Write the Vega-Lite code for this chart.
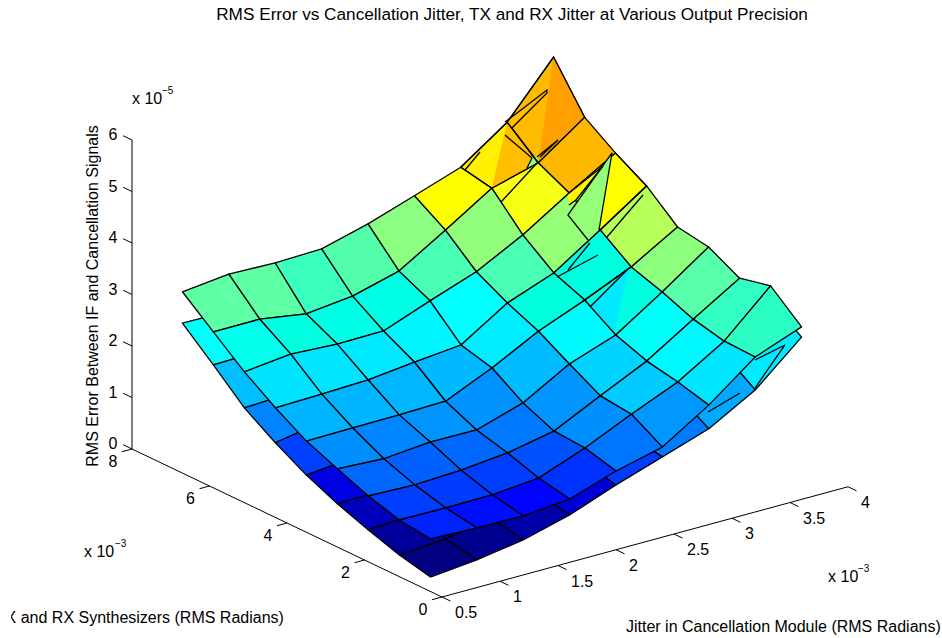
{"$schema":"https://vega.github.io/schema/vega-lite/v6.json","width":931,"height":608,"autosize":"none","padding":{"left":11,"top":30,"right":0,"bottom":0},"background":"white","config":{"view":{"stroke":null},"text":{"font":"Liberation Sans","fontSize":16,"color":"#000"}},
"title":{"text":"RMS Error vs Cancellation Jitter, TX and RX Jitter at Various Output Precision","font":"Liberation Sans","fontSize":17.2,"fontWeight":"normal","color":"#000","dx":35.5,"offset":7,"anchor":"middle"},
"datasets":{
"axes":[
{"n":"ax","x":[0.5,4],"y":[0,0],"z":[0,0],"k":[0,1]},{"n":"ay","x":[0.5,0.5],"y":[0,8],"z":[0,0],"k":[0,1]},{"n":"az","x":[0.5,0.5],"y":[8,8],"z":[0,6],"k":[0,1]},
{"n":"tx1","x":[0.5,0.5],"y":[0,-0.22],"z":[0,0],"k":[0,1]},{"n":"tx2","x":[1,1],"y":[0,-0.22],"z":[0,0],"k":[0,1]},{"n":"tx3","x":[1.5,1.5],"y":[0,-0.22],"z":[0,0],"k":[0,1]},{"n":"tx4","x":[2,2],"y":[0,-0.22],"z":[0,0],"k":[0,1]},{"n":"tx5","x":[2.5,2.5],"y":[0,-0.22],"z":[0,0],"k":[0,1]},{"n":"tx6","x":[3,3],"y":[0,-0.22],"z":[0,0],"k":[0,1]},{"n":"tx7","x":[3.5,3.5],"y":[0,-0.22],"z":[0,0],"k":[0,1]},{"n":"tx8","x":[4,4],"y":[0,-0.22],"z":[0,0],"k":[0,1]},
{"n":"ty0","x":[0.5,0.414],"y":[0,0],"z":[0,0],"k":[0,1]},{"n":"ty2","x":[0.5,0.414],"y":[2,2],"z":[0,0],"k":[0,1]},{"n":"ty4","x":[0.5,0.414],"y":[4,4],"z":[0,0],"k":[0,1]},{"n":"ty6","x":[0.5,0.414],"y":[6,6],"z":[0,0],"k":[0,1]},{"n":"ty8","x":[0.5,0.414],"y":[8,8],"z":[0,0],"k":[0,1]},
{"n":"tz0","x":[0.5,0.5],"y":[8,8.23],"z":[0,0],"k":[0,1]},{"n":"tz1","x":[0.5,0.5],"y":[8,8.23],"z":[1,1],"k":[0,1]},{"n":"tz2","x":[0.5,0.5],"y":[8,8.23],"z":[2,2],"k":[0,1]},{"n":"tz3","x":[0.5,0.5],"y":[8,8.23],"z":[3,3],"k":[0,1]},{"n":"tz4","x":[0.5,0.5],"y":[8,8.23],"z":[4,4],"k":[0,1]},{"n":"tz5","x":[0.5,0.5],"y":[8,8.23],"z":[5,5],"k":[0,1]},{"n":"tz6","x":[0.5,0.5],"y":[8,8.23],"z":[6,6],"k":[0,1]}
],
"cells":[
{"s":"B","x":0.5,"y":5.9,"z":[2.39,2.41,2.90,2.91]},{"s":"B","x":0.5,"y":5.1,"z":[1.84,1.88,2.41,2.39]},{"s":"B","x":0.5,"y":4.3,"z":[1.45,1.61,1.88,1.84]},{"s":"B","x":0.5,"y":3.5,"z":[1.11,1.20,1.61,1.45]},{"s":"B","x":0.5,"y":2.7,"z":[0.84,0.86,1.20,1.11]},{"s":"B","x":0.5,"y":1.9,"z":[0.62,0.68,0.86,0.84]},{"s":"B","x":0.9,"y":1.1,"z":[0.49,0.63,0.78,0.68]},{"s":"B","x":0.5,"y":1.1,"z":[0.42,0.49,0.68,0.62]},
{"s":"B","x":3.3,"y":0.3,"z":[2.20,2.98,3.41,2.61]},{"s":"B","x":2.9,"y":0.3,"z":[1.69,2.20,2.61,2.06]},{"s":"B","x":2.5,"y":0.3,"z":[1.39,1.69,2.06,1.49]},{"s":"B","x":2.1,"y":0.3,"z":[1.09,1.39,1.49,1.23]},{"s":"B","x":1.7,"y":0.3,"z":[0.75,1.09,1.23,0.89]},{"s":"B","x":1.3,"y":0.3,"z":[0.51,0.75,0.89,0.63]},{"s":"B","x":0.9,"y":0.3,"z":[0.37,0.51,0.63,0.49]},{"s":"B","x":0.5,"y":0.3,"z":[0.28,0.37,0.49,0.42]},
{"s":"A","x":3.3,"y":5.9,"z":[4.60,5.24,6.12,5.10],"c":4.28},{"s":"A","x":2.9,"y":5.9,"z":[4.35,4.60,5.10,4.47],"c":3.88},{"s":"A","x":2.5,"y":5.9,"z":[3.78,4.35,4.47,4.16]},{"s":"A","x":2.1,"y":5.9,"z":[3.23,3.78,4.16,3.86]},{"s":"A","x":1.7,"y":5.9,"z":[2.99,3.23,3.86,3.62]},{"s":"A","x":1.3,"y":5.9,"z":[2.89,2.99,3.62,3.59]},{"s":"A","x":0.9,"y":5.9,"z":[3.03,2.89,3.59,3.62]},{"s":"A","x":0.5,"y":5.9,"z":[3.03,3.03,3.62,3.52]},
{"s":"A","x":3.3,"y":5.1,"z":[4.30,4.83,5.24,4.60]},{"s":"A","x":2.9,"y":5.1,"z":[3.73,4.30,4.60,4.35]},{"s":"A","x":2.5,"y":5.1,"z":[3.26,3.73,4.35,3.78]},{"s":"A","x":2.1,"y":5.1,"z":[2.94,3.26,3.78,3.23]},{"s":"A","x":1.7,"y":5.1,"z":[2.60,2.94,3.23,2.99]},{"s":"A","x":1.3,"y":5.1,"z":[2.59,2.60,2.99,2.89]},{"s":"A","x":0.9,"y":5.1,"z":[2.64,2.59,2.89,3.03]},{"s":"A","x":0.5,"y":5.1,"z":[2.54,2.64,3.03,3.03]},
{"s":"A","x":3.3,"y":4.3,"z":[3.87,4.48,4.83,4.30],"c":3.77},{"s":"A","x":2.9,"y":4.3,"z":[3.28,3.87,4.30,3.73]},{"s":"A","x":2.5,"y":4.3,"z":[2.94,3.28,3.73,3.26]},{"s":"A","x":2.1,"y":4.3,"z":[2.37,2.94,3.26,2.94]},{"s":"A","x":1.7,"y":4.3,"z":[2.28,2.37,2.94,2.60]},{"s":"A","x":1.3,"y":4.3,"z":[2.18,2.28,2.60,2.59]},{"s":"A","x":0.9,"y":4.3,"z":[2.15,2.18,2.59,2.64]},{"s":"A","x":0.5,"y":4.3,"z":[2.13,2.15,2.64,2.54]},
{"s":"A","x":3.3,"y":3.5,"z":[3.44,3.97,4.48,3.87]},{"s":"A","x":2.9,"y":3.5,"z":[3.04,3.44,3.87,3.28],"c":2.64},{"s":"A","x":2.5,"y":3.5,"z":[2.68,3.04,3.28,2.94]},{"s":"A","x":2.1,"y":3.5,"z":[2.21,2.68,2.94,2.37]},{"s":"A","x":1.7,"y":3.5,"z":[1.81,2.21,2.37,2.28]},{"s":"A","x":1.3,"y":3.5,"z":[1.79,1.81,2.28,2.18]},{"s":"A","x":0.9,"y":3.5,"z":[1.78,1.79,2.18,2.15]},{"s":"A","x":0.5,"y":3.5,"z":[1.77,1.78,2.15,2.13]},
{"s":"A","x":3.3,"y":2.7,"z":[3.24,3.87,3.97,3.44]},{"s":"A","x":2.9,"y":2.7,"z":[2.65,3.24,3.44,3.04]},{"s":"A","x":2.5,"y":2.7,"z":[2.33,2.65,3.04,2.68]},{"s":"A","x":2.1,"y":2.7,"z":[1.82,2.33,2.68,2.21]},{"s":"A","x":1.7,"y":2.7,"z":[1.54,1.82,2.21,1.81]},{"s":"A","x":1.3,"y":2.7,"z":[1.55,1.54,1.81,1.79]},{"s":"A","x":0.9,"y":2.7,"z":[1.47,1.55,1.79,1.78]},{"s":"A","x":0.5,"y":2.7,"z":[1.52,1.47,1.78,1.77]},
{"s":"A","x":3.3,"y":1.9,"z":[3.00,3.55,3.87,3.24]},{"s":"A","x":2.9,"y":1.9,"z":[2.43,3.00,3.24,2.65]},{"s":"A","x":2.5,"y":1.9,"z":[2.00,2.43,2.65,2.33]},{"s":"A","x":2.1,"y":1.9,"z":[1.56,2.00,2.33,1.82]},{"s":"A","x":1.7,"y":1.9,"z":[1.38,1.56,1.82,1.54]},{"s":"A","x":1.3,"y":1.9,"z":[1.29,1.38,1.54,1.55]},{"s":"A","x":0.9,"y":1.9,"z":[1.25,1.29,1.55,1.47]},{"s":"A","x":0.5,"y":1.9,"z":[1.28,1.25,1.47,1.52]},
{"s":"A","x":3.3,"y":1.1,"z":[2.86,3.69,3.55,3.00]},{"s":"A","x":2.9,"y":1.1,"z":[2.31,2.86,3.00,2.43]},{"s":"A","x":2.5,"y":1.1,"z":[1.93,2.31,2.43,2.00]},{"s":"A","x":2.1,"y":1.1,"z":[1.52,1.93,2.00,1.56]},{"s":"A","x":1.7,"y":1.1,"z":[1.18,1.52,1.56,1.38]},{"s":"A","x":1.3,"y":1.1,"z":[1.10,1.18,1.38,1.29]},{"s":"A","x":0.9,"y":1.1,"z":[1.09,1.10,1.29,1.25]},{"s":"A","x":0.5,"y":1.1,"z":[1.10,1.09,1.25,1.28]},
{"s":"A","x":3.3,"y":0.3,"z":[2.84,3.18,3.69,2.86]},{"s":"A","x":2.9,"y":0.3,"z":[2.15,2.84,2.86,2.31]},{"s":"A","x":2.5,"y":0.3,"z":[1.58,2.15,2.31,1.93]},{"s":"A","x":2.1,"y":0.3,"z":[1.36,1.58,1.93,1.52]},{"s":"A","x":1.7,"y":0.3,"z":[1.06,1.36,1.52,1.18]},{"s":"A","x":1.3,"y":0.3,"z":[0.98,1.06,1.18,1.10]},{"s":"A","x":0.9,"y":0.3,"z":[0.99,0.98,1.10,1.09]},{"s":"A","x":0.5,"y":0.3,"z":[1.02,0.99,1.09,1.10]}
],
"patches":[
{"n":"p1","c":4.465,"x":[3.3,3.7,3.7],"y":[5.9,5.9,6.7],"z":[4.60,5.24,6.12],"k":[0,1,2]},
{"n":"p2","c":4.26,"x":[2.9,3.3,3.3],"y":[5.9,5.9,6.7],"z":[4.35,4.60,5.10],"k":[0,1,2]},
{"n":"p3","c":4.26,"x":[3.419,3.643,3.643,3.341,3.281],"y":[6.7,6.7,6.7,6.7,6.7],"z":[5.264,5.515,5.457,4.962,5.116],"k":[0,1,2,3,4]},
{"n":"p4","c":3.28,"x":[3.514,3.557,3.574,3.471],"y":[6.7,6.7,6.7,6.7],"z":[4.274,4.306,4.140,4.106],"k":[0,1,2,3]},
{"n":"p5","c":3.83,"x":[3.557,3.738,3.583],"y":[6.7,6.7,6.7],"z":[4.267,4.487,4.251],"k":[0,1,2]},
{"n":"p6","c":3.83,"x":[3.022,3.324,3.091,3.031],"y":[4.3,4.3,4.3,4.3],"z":[4.738,5.097,4.579,4.519],"k":[0,1,2,3]},
{"n":"p7","c":3.28,"x":[3.022,3.402,3.290],"y":[4.3,4.3,4.3],"z":[4.330,5.302,3.875],"k":[0,1,2]},
{"n":"p8","c":2.18,"x":[3.419,3.548,3.212],"y":[4.3,4.3,4.3],"z":[1.757,2.979,2.428],"k":[0,1,2]}
],
"strokes":[
{"n":"l1","x":[3.3,3.7,3.7,3.3,3.3],"y":[5.9,5.9,6.7,6.7,5.9],"z":[4.60,5.24,6.12,5.10,4.60],"k":[0,1,2,3,4]},
{"n":"l2","x":[2.9,3.3,3.3,2.9,2.9],"y":[5.9,5.9,6.7,6.7,5.9],"z":[4.35,4.60,5.10,4.47,4.35],"k":[0,1,2,3,4]},
{"n":"l3","x":[3.281,3.419,3.643,3.643,3.341],"y":[6.7,6.7,6.7,6.7,6.7],"z":[5.116,5.264,5.515,5.457,4.962],"k":[0,1,2,3,4]},
{"n":"l4","x":[2.936,3.066],"y":[6.7,6.7],"z":[4.394,4.665],"k":[0,1]},
{"n":"l5","x":[3.281,3.514],"y":[6.7,6.7],"z":[4.863,4.274],"k":[0,1]},
{"n":"l6","x":[3.514,3.471],"y":[6.7,6.7],"z":[4.274,4.106],"k":[0,1]},
{"n":"l7","x":[3.557,3.738,3.583],"y":[6.7,6.7,6.7],"z":[4.267,4.487,4.251],"k":[0,1,2]},
{"n":"l8","x":[3.247,3.557],"y":[6.7,6.7],"z":[3.583,4.151],"k":[0,1]},
{"n":"l9","x":[3.022,3.324,3.091,3.031],"y":[4.3,4.3,4.3,4.3],"z":[4.738,5.097,4.579,4.519],"k":[0,1,2,3]},
{"n":"l10","x":[3.195,3.022,3.402,3.290],"y":[4.3,4.3,4.3,4.3],"z":[3.739,4.330,5.302,3.875],"k":[0,1,2,3]},
{"n":"l11","x":[3.3,3.7,3.7],"y":[4.3,4.3,5.1],"z":[3.87,4.48,4.83],"k":[0,1,2]},
{"n":"l12","x":[3.359,3.669],"y":[4.3,4.3],"z":[3.697,4.323],"k":[0,1]},
{"n":"l13","x":[2.928,3.281],"y":[4.3,4.3],"z":[3.184,3.395],"k":[0,1]},
{"n":"l14","x":[3.022,3.212],"y":[4.3,4.3],"z":[3.262,3.670],"k":[0,1]},
{"n":"l15","x":[3.212,3.548],"y":[4.3,4.3],"z":[2.428,2.979],"k":[0,1]},
{"n":"l16","x":[2.9,2.9,3.3],"y":[2.7,3.5,3.5],"z":[2.65,3.04,3.44],"k":[0,1,2]},
{"n":"l17","x":[3.298,3.557,3.298],"y":[0.3,0.3,0.3],"z":[2.783,2.916,2.239],"k":[0,1,2]},
{"n":"l18","x":[2.893,3.169],"y":[0.3,0.3],"z":[2.021,2.221],"k":[0,1]}
],
"xticks":[{"t":"0.5","x":0.5},{"t":"1","x":1},{"t":"1.5","x":1.5},{"t":"2","x":2},{"t":"2.5","x":2.5},{"t":"3","x":3},{"t":"3.5","x":3.5},{"t":"4","x":4}],
"yticks":[{"t":"0","y":0},{"t":"2","y":2},{"t":"4","y":4},{"t":"6","y":6},{"t":"8","y":8}],
"zticks":[{"t":"0","z":0},{"t":"1","z":1},{"t":"2","z":2},{"t":"3","z":3},{"t":"4","z":4},{"t":"5","z":5},{"t":"6","z":6}],
"notes":[{"t":"x 10","x":0.5,"y":8,"z":6.80},{"t":"x 10","x":0.5,"y":9.24,"z":-2.445},{"t":"x 10","x":3.828,"y":0,"z":-1.647},{"t":"Jitter in Cancellation Module (RMS Radians)","x":2.086,"y":0,"z":-1.553}],
"sups":[{"t":"−5","x":0.7586,"y":8,"z":6.79},{"t":"−3","x":0.5,"y":8.44,"z":-2.0},{"t":"−3","x":4.086,"y":0,"z":-1.65}],
"ylab":[{"t":"Jitter in TX and RX Synthesizers (RMS Radians)","x":0.5,"y":4.08,"z":-1.872}],
"zlab":[{"t":"RMS Error Between IF and Cancellation Signals","x":0.5,"y":9.006,"z":2.61}]
},
"layer":[
{"data":{"name":"axes"},"transform":[{"flatten":["x","y","z","k"]},{"calculate":"442+(datum.x-0.5)*116-datum.y*38.75","as":"sx"},{"calculate":"597-(datum.x-0.5)*31.5-datum.y*18.5-datum.z*51.5","as":"sy"}],
"mark":{"type":"line","stroke":"#000","strokeWidth":1},
"encoding":{"x":{"field":"sx","type":"quantitative","scale":{"domain":[11,942],"nice":false,"zero":false},"axis":null},"y":{"field":"sy","type":"quantitative","scale":{"domain":[638,30],"nice":false,"zero":false},"axis":null},"detail":{"field":"n"},"order":{"field":"k"}}},
{"data":{"name":"cells"},"transform":[{"calculate":"isValid(datum.c)?datum.c:datum.z[0]","as":"col"},{"calculate":"datum.s+'_'+datum.x+'_'+datum.y","as":"id"},{"calculate":"[0,1,2,3,4]","as":"k"},{"flatten":["k"]},{"calculate":"datum.x+[0,0.4,0.4,0,0][datum.k]","as":"px"},{"calculate":"datum.y+[0,0,0.8,0.8,0][datum.k]","as":"py"},{"calculate":"datum.z[datum.k%4]","as":"pz"},{"calculate":"442+(datum.px-0.5)*116-datum.py*38.75","as":"sx"},{"calculate":"597-(datum.px-0.5)*31.5-datum.py*18.5-datum.pz*51.5","as":"sy"}],
"mark":{"type":"line","stroke":"#000","strokeWidth":1.3,"strokeJoin":"round"},
"encoding":{"x":{"field":"sx","type":"quantitative"},"y":{"field":"sy","type":"quantitative"},"detail":{"field":"id"},"order":{"field":"k"},"fill":{"field":"col","type":"quantitative","legend":null,"scale":{"domain":[0.28,0.9775,2.37,3.77,5.16,5.86],"range":["#000080","#0000ff","#00ffff","#ffff00","#ff0000","#800000"]}}}},
{"data":{"name":"patches"},"transform":[{"flatten":["x","y","z","k"]},{"calculate":"442+(datum.x-0.5)*116-datum.y*38.75","as":"sx"},{"calculate":"597-(datum.x-0.5)*31.5-datum.y*18.5-datum.z*51.5","as":"sy"}],
"mark":{"type":"line","strokeWidth":0},
"encoding":{"x":{"field":"sx","type":"quantitative"},"y":{"field":"sy","type":"quantitative"},"detail":{"field":"n"},"order":{"field":"k"},"fill":{"field":"c","type":"quantitative","legend":null,"scale":{"domain":[0.28,0.9775,2.37,3.77,5.16,5.86],"range":["#000080","#0000ff","#00ffff","#ffff00","#ff0000","#800000"]}}}},
{"data":{"name":"strokes"},"transform":[{"flatten":["x","y","z","k"]},{"calculate":"442+(datum.x-0.5)*116-datum.y*38.75","as":"sx"},{"calculate":"597-(datum.x-0.5)*31.5-datum.y*18.5-datum.z*51.5","as":"sy"}],
"mark":{"type":"line","stroke":"#000","strokeWidth":1.3},
"encoding":{"x":{"field":"sx","type":"quantitative"},"y":{"field":"sy","type":"quantitative"},"detail":{"field":"n"},"order":{"field":"k"}}},
{"data":{"name":"xticks"},"transform":[{"calculate":"442+(datum.x-0.5)*116","as":"sx"},{"calculate":"597-(datum.x-0.5)*31.5","as":"sy"}],
"mark":{"type":"text","align":"left","baseline":"middle","dx":13,"dy":16},
"encoding":{"x":{"field":"sx","type":"quantitative"},"y":{"field":"sy","type":"quantitative"},"text":{"field":"t"}}},
{"data":{"name":"yticks"},"transform":[{"calculate":"442-datum.y*38.75","as":"sx"},{"calculate":"597-datum.y*18.5","as":"sy"}],
"mark":{"type":"text","align":"center","baseline":"middle","dx":-19,"dy":13},
"encoding":{"x":{"field":"sx","type":"quantitative"},"y":{"field":"sy","type":"quantitative"},"text":{"field":"t"}}},
{"data":{"name":"zticks"},"transform":[{"calculate":"442-8*38.75","as":"sx"},{"calculate":"597-8*18.5-datum.z*51.5","as":"sy"}],
"mark":{"type":"text","align":"center","baseline":"middle","dx":-19,"dy":-5},
"encoding":{"x":{"field":"sx","type":"quantitative"},"y":{"field":"sy","type":"quantitative"},"text":{"field":"t"}}},
{"data":{"name":"notes"},"transform":[{"calculate":"442+(datum.x-0.5)*116-datum.y*38.75","as":"sx"},{"calculate":"597-(datum.x-0.5)*31.5-datum.y*18.5-datum.z*51.5","as":"sy"}],
"mark":{"type":"text","align":"left","baseline":"middle"},
"encoding":{"x":{"field":"sx","type":"quantitative"},"y":{"field":"sy","type":"quantitative"},"text":{"field":"t"}}},
{"data":{"name":"sups"},"transform":[{"calculate":"442+(datum.x-0.5)*116-datum.y*38.75","as":"sx"},{"calculate":"597-(datum.x-0.5)*31.5-datum.y*18.5-datum.z*51.5","as":"sy"}],
"mark":{"type":"text","align":"left","baseline":"middle","fontSize":10},
"encoding":{"x":{"field":"sx","type":"quantitative"},"y":{"field":"sy","type":"quantitative"},"text":{"field":"t"}}},
{"data":{"name":"ylab"},"transform":[{"calculate":"442+(datum.x-0.5)*116-datum.y*38.75","as":"sx"},{"calculate":"597-(datum.x-0.5)*31.5-datum.y*18.5-datum.z*51.5","as":"sy"}],
"mark":{"type":"text","align":"right","baseline":"middle","clip":true},
"encoding":{"x":{"field":"sx","type":"quantitative"},"y":{"field":"sy","type":"quantitative"},"text":{"field":"t"}}},
{"data":{"name":"zlab"},"transform":[{"calculate":"442+(datum.x-0.5)*116-datum.y*38.75","as":"sx"},{"calculate":"597-(datum.x-0.5)*31.5-datum.y*18.5-datum.z*51.5","as":"sy"}],
"mark":{"type":"text","align":"center","baseline":"middle","angle":270},
"encoding":{"x":{"field":"sx","type":"quantitative"},"y":{"field":"sy","type":"quantitative"},"text":{"field":"t"}}}
]}
